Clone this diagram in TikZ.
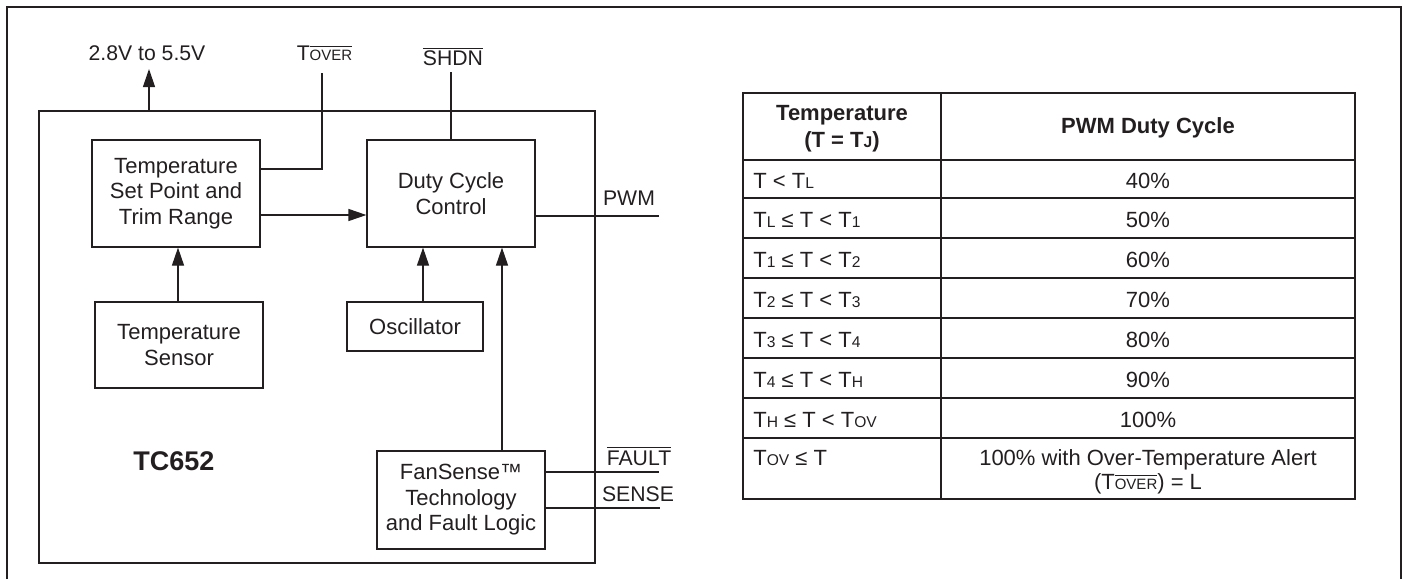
\documentclass[tikz,border=0pt]{standalone}
\usepackage{fontspec}
\setmainfont{Liberation Sans}
\usetikzlibrary{arrows.meta}
\definecolor{ink}{RGB}{35,31,32}
\newcommand\ovl[1]{$\overline{\mbox{#1}}$}
\newcommand\lsub[1]{{\fontsize{7.8}{7.8}\selectfont #1}}
\newcommand\toverA{T{\fontsize{7.5}{7.5}\selectfont\ovl{OVER}}}
\tikzset{
  blk/.style={draw=ink, line width=0.6pt, align=center, inner sep=0pt, text=ink,
    font=\fontsize{11}{12.75}\selectfont},
  wire/.style={draw=ink, line width=0.6pt},
  arr/.style={wire, -{Triangle[length=9pt,width=6pt]}},
  lbl/.style={inner sep=0pt, anchor=base, text=ink, font=\fontsize{10.6}{12.75}\selectfont},
  tline/.style={draw=ink, line width=0.8pt},
  ttxt/.style={inner sep=0pt, anchor=base, text=ink, font=\fontsize{11}{13.5}\selectfont},
  thead/.style={ttxt, font=\fontsize{11}{13.5}\selectfont\bfseries},
}
\begin{document}
\begin{tikzpicture}[x=0.5pt, y=-0.5pt]
\useasboundingbox (0,0) rectangle (1403,579);
% outer frame (bottom edge cut off)
\draw[ink, line width=0.7pt] (7,579) -- (7,7) -- (1401,7) -- (1401,579);

% ---------- block diagram ----------
\node[blk, minimum width=278pt, minimum height=226pt] (ic) at (317,337) {};
\node[blk, minimum width=84pt, minimum height=53.5pt] (tsp) at (176,193.5) {Temperature\\Set Point and\\Trim Range};
\node[blk, minimum width=84pt, minimum height=53.5pt] (duty) at (451,193.5) {Duty Cycle\\Control};
\node[blk, minimum width=84pt, minimum height=43pt] (tsens) at (179,345) {Temperature\\Sensor};
\node[blk, minimum width=68pt, minimum height=24.5pt] (osc) at (415,326.5) {Oscillator};
\node[blk, minimum width=84pt, minimum height=49pt] (fan) at (461,500) {FanSense™\\Technology\\and Fault Logic};

\node[lbl, font=\fontsize{13.5}{16}\selectfont\bfseries] (chip) at (174,470.5) {TC652};

% pin labels
\node[lbl] (vcclbl) at (147,60) {2.8V to 5.5V};
\node[lbl] (toverlbl) at (324.5,60) {\toverA};
\node[lbl] (shdnlbl) at (453,65.5) {\ovl{SHDN}};
\node[lbl] (pwmlbl) at (629,205.5) {PWM};
\node[lbl] (faultlbl) at (639,465) {\ovl{FAULT}};
\node[lbl] (senselbl) at (638,501) {SENSE};

% free ends / bend points
\coordinate (vcctip) at (149,69);
\coordinate (toverend) at (322,73);
\coordinate (toverjoin) at (322,169);
\coordinate (shdnend) at (451,72);
\coordinate (arrowy) at (0,215);
\coordinate (pwmend) at (659,216);
\coordinate (sensx) at (178,0);
\coordinate (oscx) at (423,0);
\coordinate (fanx) at (502,0);
\coordinate (faultend) at (659,472);
\coordinate (senseend) at (660,508);

% connectors
\draw[arr] (ic.north -| vcctip) -- (vcctip);
\draw[wire] (toverend) |- (tsp.east |- toverjoin);
\draw[wire] (shdnend) -- (shdnend |- duty.north);
\draw[arr] (tsp.east |- arrowy) -- (duty.west |- arrowy);
\draw[wire] (duty.east |- pwmend) -- (pwmend);
\draw[arr] (tsens.north -| sensx) -- (tsp.south -| sensx);
\draw[arr] (osc.north -| oscx) -- (duty.south -| oscx);
\draw[arr] (fan.north -| fanx) -- (duty.south -| fanx);
\draw[wire] (fan.east |- faultend) -- (faultend);
\draw[wire] (fan.east |- senseend) -- (senseend);

% ---------- table ----------
\draw[tline] (743,93) rectangle (1355,499);
\draw[tline] (941,93) -- (941,499);
\foreach \yy in {160,198,238,278,318,358,398,438}
  \draw[tline] (743,\yy) -- (1355,\yy);

\node[thead] (h1a) at (842,120) {Temperature};
\node[thead] (h1b) at (842,147) {(T = T{\fontsize{7.8}{7.8}\selectfont J})};
\node[thead] (h2) at (1148,133) {PWM Duty Cycle};

\node[ttxt, anchor=base west] (r1a) at (753,188.5) {T < T\lsub{L}};
\node[ttxt] (r1b) at (1148,188.5) {40\%};
\node[ttxt, anchor=base west] (r2a) at (753,227.5) {T\lsub{L} ≤ T < T\lsub{1}};
\node[ttxt] (r2b) at (1148,227.5) {50\%};
\node[ttxt, anchor=base west] (r3a) at (753,267.5) {T\lsub{1} ≤ T < T\lsub{2}};
\node[ttxt] (r3b) at (1148,267.5) {60\%};
\node[ttxt, anchor=base west] (r4a) at (753,307.5) {T\lsub{2} ≤ T < T\lsub{3}};
\node[ttxt] (r4b) at (1148,307.5) {70\%};
\node[ttxt, anchor=base west] (r5a) at (753,347.5) {T\lsub{3} ≤ T < T\lsub{4}};
\node[ttxt] (r5b) at (1148,347.5) {80\%};
\node[ttxt, anchor=base west] (r6a) at (753,387.5) {T\lsub{4} ≤ T < T\lsub{H}};
\node[ttxt] (r6b) at (1148,387.5) {90\%};
\node[ttxt, anchor=base west] (r7a) at (753,427.5) {T\lsub{H} ≤ T < T\lsub{OV}};
\node[ttxt] (r7b) at (1148,427.5) {100\%};
\node[ttxt, anchor=base west] (r8a) at (753,465) {T\lsub{OV} ≤ T};
\node[ttxt] (r8b) at (1148,465) {100\% with Over-Temperature Alert};
\node[ttxt] (r8c) at (1148,489) {(T{\fontsize{7.5}{7.5}\selectfont\ovl{OVER}}) = L};
\end{tikzpicture}
\end{document}
